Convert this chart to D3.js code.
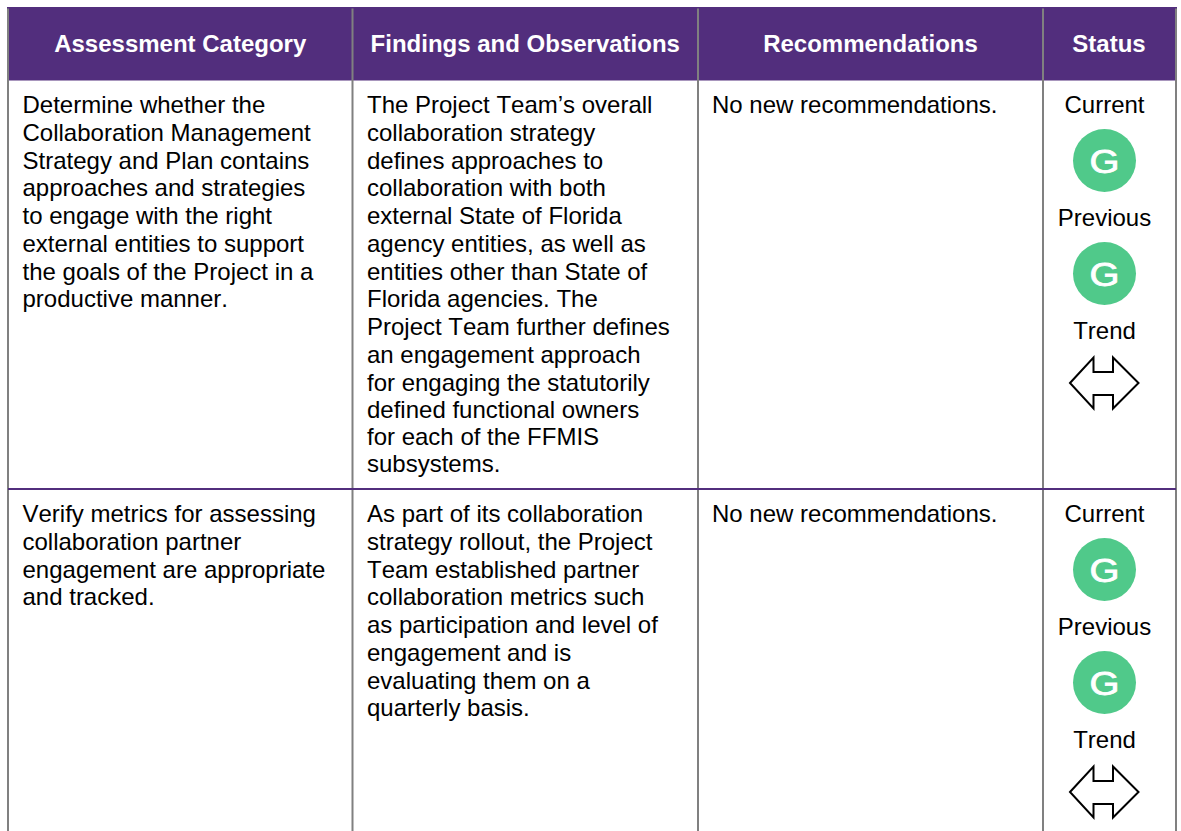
<!DOCTYPE html>
<html><head><meta charset="utf-8">
<script src="https://cdn.jsdelivr.net/npm/d3@7/dist/d3.min.js"></script>
<style>html,body{margin:0;padding:0;background:#fff}svg{display:block}text{font-family:"Liberation Sans",Arial,sans-serif;font-kerning:none}</style>
</head><body><div id="c"></div>
<script>
const headers = ["Assessment Category","Findings and Observations","Recommendations","Status"];
const row1Category = ["Determine whether the","Collaboration Management","Strategy and Plan contains","approaches and strategies","to engage with the right","external entities to support","the goals of the Project in a","productive manner."];
const row1Findings = ["The Project Team’s overall","collaboration strategy","defines approaches to","collaboration with both","external State of Florida","agency entities, as well as","entities other than State of","Florida agencies. The","Project Team further defines","an engagement approach","for engaging the statutorily","defined functional owners","for each of the FFMIS","subsystems."];
const row2Category = ["Verify metrics for assessing","collaboration partner","engagement are appropriate","and tracked."];
const row2Findings = ["As part of its collaboration","strategy rollout, the Project","Team established partner","collaboration metrics such","as participation and level of","engagement and is","evaluating them on a","quarterly basis."];
const recommendations = ["No new recommendations."];
const statusLabels = ["Current","Previous","Trend"];
const statusRatings = ["G","G"];
const rows = [
  {category:row1Category, findings:row1Findings, rec:recommendations},
  {category:row2Category, findings:row2Findings, rec:recommendations}
];

const W=1181,H=831;
const svg=d3.select("#c").append("svg").attr("width",W).attr("height",H);
const edges=[8,352.5,698,1043,1176];
const purple="#522e7d", grey="#808080";
const FS=24, LH=27.75;

svg.append("rect").attr("x",edges[0]-1).attr("y",7).attr("width",edges[4]-edges[0]+2).attr("height",73.5).attr("fill",purple);

svg.selectAll("line.v").data(edges).join("line").attr("class","v")
  .attr("x1",d=>d).attr("x2",d=>d).attr("y1",8.5).attr("y2",H).attr("stroke",grey).attr("stroke-width",2);

svg.append("line").attr("x1",edges[0]).attr("x2",edges[4]).attr("y1",489).attr("y2",489).attr("stroke",purple).attr("stroke-width",2);

svg.selectAll("text.h").data(headers).join("text").attr("class","h")
  .attr("x",(d,i)=>(edges[i]+edges[i+1])/2+(i==3?-0.5:0)).attr("y",52).attr("text-anchor","middle")
  .attr("fill","#fff").attr("font-weight","bold").attr("font-size",24).text(d=>d);

function para(lines,x,y0){
  const g=svg.append("g");
  // the two closing lines of the long cell sit slightly tighter in the source
  const tighten=i=>i===12?-1:i===13?-2:0;
  g.selectAll("text").data(lines).join("text")
   .attr("x",x).attr("y",(d,i)=>y0+i*LH+tighten(i)).attr("font-size",FS).attr("fill","#000").text(d=>d);
}
const base=[113,522];
rows.forEach((r,i)=>{
  para(r.category,22.5,base[i]);
  para(r.findings,367,base[i]);
  para(r.rec,712,base[i]);
  const cx=1104.5,y=base[i];
  const labelY=[y,y+113,y+226];
  statusLabels.forEach((t,k)=>svg.append("text").attr("x",cx).attr("y",labelY[k]).attr("text-anchor","middle").attr("font-size",FS).text(t));
  statusRatings.forEach((t,k)=>{
    const cy=y+47.5+k*113;
    svg.append("circle").attr("cx",cx).attr("cy",cy).attr("r",31.5).attr("fill","#50c98a");
    svg.append("text").attr("x",cx).attr("y",cy+12.5).attr("text-anchor","middle").attr("font-size",34)
       .attr("fill","#fff").attr("stroke","#fff").attr("stroke-width",0.8)
       .attr("textLength",30).attr("lengthAdjust","spacingAndGlyphs").text(t);
  });
  const ay=y+270;
  const pts=[[-34.5,0],[-11,-25.5],[-11,-11],[8.5,-11],[8.5,-25.5],[34,0],[8.5,25.5],[8.5,12],[-11,12],[-11,25.5]];
  svg.append("path").attr("d",d3.line()(pts)+"Z").attr("transform",`translate(${cx},${ay})`)
     .attr("fill","#fff").attr("stroke","#000").attr("stroke-width",2);
});
</script></body></html>
